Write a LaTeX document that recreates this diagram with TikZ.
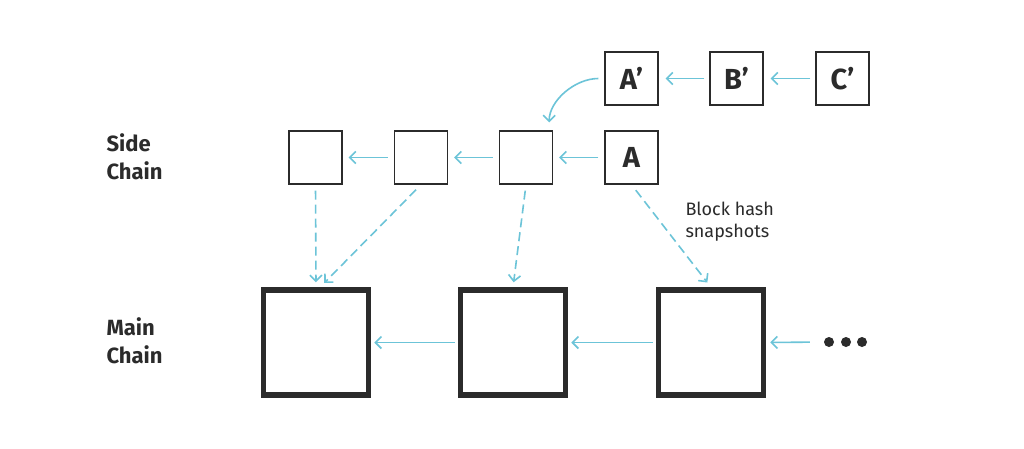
\documentclass[tikz,border=0pt]{standalone}
\usepackage{fontspec}
\setmainfont{Fira Sans}
\usetikzlibrary{arrows.meta,calc}
\definecolor{arrowblue}{HTML}{6CC4D8}
\definecolor{boxgray}{HTML}{2B2B2B}
\tikzset{
  smallbox/.style={draw=boxgray, line width=1.3pt, minimum size=53pt, inner sep=0pt,
     font=\fontsize{29}{30}\selectfont\bfseries, text=boxgray},
  bigbox/.style={draw=boxgray, line width=5.5pt, minimum size=105pt, inner sep=0pt},
  arr/.style={draw=arrowblue, line width=1.6pt, -{Straight Barb[length=6pt,width=12pt,line width=1.6pt]}},
  darr/.style={arr, dash pattern=on 9pt off 5pt},
  chainlabel/.style={anchor=west, align=left, text=boxgray,
     font=\fontsize{22}{28}\selectfont\bfseries},
}
\begin{document}
\begin{tikzpicture}[x=1pt,y=-1pt]
\useasboundingbox[fill=white] (0,0) rectangle (1024,448);
% top row
\node[smallbox] (tA) at (631.5,78.5) {A’};
\node[smallbox] (tB) at (736.5,78.5) {B’};
\node[smallbox] (tC) at (842.5,78.5) {C’};
% side chain
\node[smallbox] (s1) at (315.5,157.5) {};
\node[smallbox] (s2) at (421,157.5) {};
\node[smallbox] (s3) at (526,157.5) {};
\node[smallbox] (sA) at (631.5,157.5) {A};
% main chain
\node[bigbox] (m1) at (316,342.5) {};
\node[bigbox] (m2) at (513,342.5) {};
\node[bigbox] (m3) at (711,342.5) {};
\node[minimum width=42pt, minimum height=10pt, inner sep=0pt] (dots) at (846,342) {};
\foreach \dx in {829,846,862} \fill[boxgray] (\dx,342) circle (5pt);
% labels
\node[chainlabel] (lside) at (103,157) {Side\\Chain};
\node[chainlabel] (lmain) at (103,341) {Main\\Chain};
\node[anchor=west, align=left, text=boxgray, font=\fontsize{18}{22}\selectfont] (lhash) at (682,222) {Block hash\\snapshots};
% top arrows
\draw[arr, shorten <=5pt, shorten >=7pt] (tB) -- (tA);
\draw[arr, shorten <=5pt, shorten >=7pt] (tC) -- (tB);
\draw[arr, shorten <=6pt, shorten >=8pt] (tA.west) to[out=180,in=90] ([xshift=-4pt]s3.north east);
% side arrows
\draw[arr, shorten <=6pt, shorten >=6pt] (sA) -- (s3);
\draw[arr, shorten <=6pt, shorten >=6pt] (s3) -- (s2);
\draw[arr, shorten <=6pt, shorten >=6pt] (s2) -- (s1);
% main arrows
\draw[arr, shorten <=3pt, shorten >=3pt] (m2) -- (m1);
\draw[arr, shorten <=3pt, shorten >=3pt] (m3) -- (m2);
\draw[arr, shorten <=15pt, shorten >=4pt] (dots.west) -- (m3.east);
% dashed snapshot arrows
\draw[darr, shorten <=6pt, shorten >=5pt] (s1.south) -- (m1.north);
\draw[darr, shorten <=7pt, shorten >=6pt] (s2.south) -- ([xshift=4pt]m1.north);
\draw[darr, shorten <=6pt, shorten >=5pt] (s3.south) -- (m2.north);
\draw[darr, shorten <=7pt, shorten >=6pt] (sA.south) -- (m3.north);
\end{tikzpicture}
\end{document}
